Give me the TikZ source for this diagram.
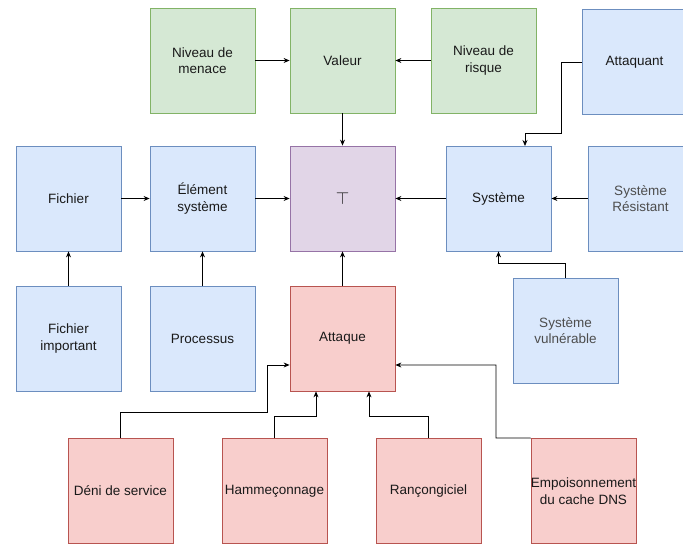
\documentclass[tikz,border=0pt]{standalone}
\usepackage{fontspec}
\setmainfont{Liberation Sans}
\usetikzlibrary{arrows.meta}
\definecolor{gfill}{HTML}{D5E8D4}\definecolor{gline}{HTML}{82B366}
\definecolor{bfill}{HTML}{DAE8FC}\definecolor{bline}{HTML}{6C8EBF}
\definecolor{rfill}{HTML}{F8CECC}\definecolor{rline}{HTML}{B85450}
\definecolor{pfill}{HTML}{E1D5E7}\definecolor{pline}{HTML}{9673A6}
\definecolor{softtext}{HTML}{4D4D4D}
\begin{document}
\begin{tikzpicture}[x=1pt,y=-1pt,
  box/.style={draw,line width=0.8pt,minimum width=105pt,minimum height=105pt,inner sep=0pt,
    align=center,font=\fontsize{13.5}{16.5}\selectfont,text=black!90},
  green/.style={box,fill=gfill,draw=gline},
  blue/.style={box,fill=bfill,draw=bline},
  red/.style={box,fill=rfill,draw=rline},
  purple/.style={box,fill=pfill,draw=pline},
  arr/.style={draw,line width=0.8pt,-{Stealth[length=6pt,width=5pt]}}]
\useasboundingbox (0,0) rectangle (683,545);
\clip (0,0) rectangle (683,545);
% top row
\node[green] (menace) at (202.5,60.5) {Niveau de\\menace};
\node[green] (valeur) at (342.5,60.5) {Valeur};
\node[green] (risque) at (483.5,60.5) {Niveau de\\risque};
\node[blue] (attaquant) at (634.5,62) {Attaquant};
% middle row
\node[blue] (fichier) at (68.5,198.5) {Fichier};
\node[blue] (elem) at (202.5,198.5) {Élément\\système};
\node[purple] (top) at (342.5,198.5) {\fontsize{16}{16}\selectfont$\top$};
\node[blue] (sys) at (498.5,198.5) {Système};
\node[blue,text=softtext] (resist) at (640.5,198.5) {Système\\Résistant};
% third row
\node[blue] (fimp) at (68.5,338.5) {Fichier\\important};
\node[blue] (proc) at (202.5,338.5) {Processus};
\node[red] (attaque) at (342.5,338.5) {Attaque};
\node[blue,text=softtext] (vuln) at (565.5,330.5) {Système\\vulnérable};
% attack kinds
\node[red] (deni) at (120.5,491) {Déni de service};
\node[red] (hamm) at (274.5,491) {Hammeçonnage};
\node[red] (ranc) at (428.5,491) {Rançongiciel};
\node[red] (empo) at (583.5,491) {Empoisonnement\\du cache DNS};
% bend points
\coordinate (a1) at (561,133);
\coordinate (a2) at (525,146);
\coordinate (v1) at (498.5,263);
\coordinate (d1) at (267,412);
\coordinate (h1) at (316,416);
\coordinate (r1) at (369,416);
\coordinate (e1) at (496,438);
% connectors
\draw[arr] (menace) -- (valeur);
\draw[arr] (risque) -- (valeur);
\draw[arr] (valeur) -- (top);
\draw[arr] (attaquant.west) -| (a1) -| (a2);
\draw[arr] (fichier) -- (elem);
\draw[arr] (elem) -- (top);
\draw[arr] (sys) -- (top);
\draw[arr] (resist) -- (sys);
\draw[arr] (fimp) -- (fichier);
\draw[arr] (proc) -- (elem);
\draw[arr] (attaque) -- (top);
\draw[arr] (vuln.north) |- (v1) -- (sys.south);
\draw[arr] (deni.north) |- (d1) |- ([yshift=-26.5pt]attaque.west);
\draw[arr] (hamm.north) |- (h1) -- (h1 |- attaque.south);
\draw[arr] (ranc.north) |- (r1) -- (r1 |- attaque.south);
\draw[arr] (empo.north west) -- (e1) |- ([yshift=-26.5pt]attaque.east);
\end{tikzpicture}
\end{document}
